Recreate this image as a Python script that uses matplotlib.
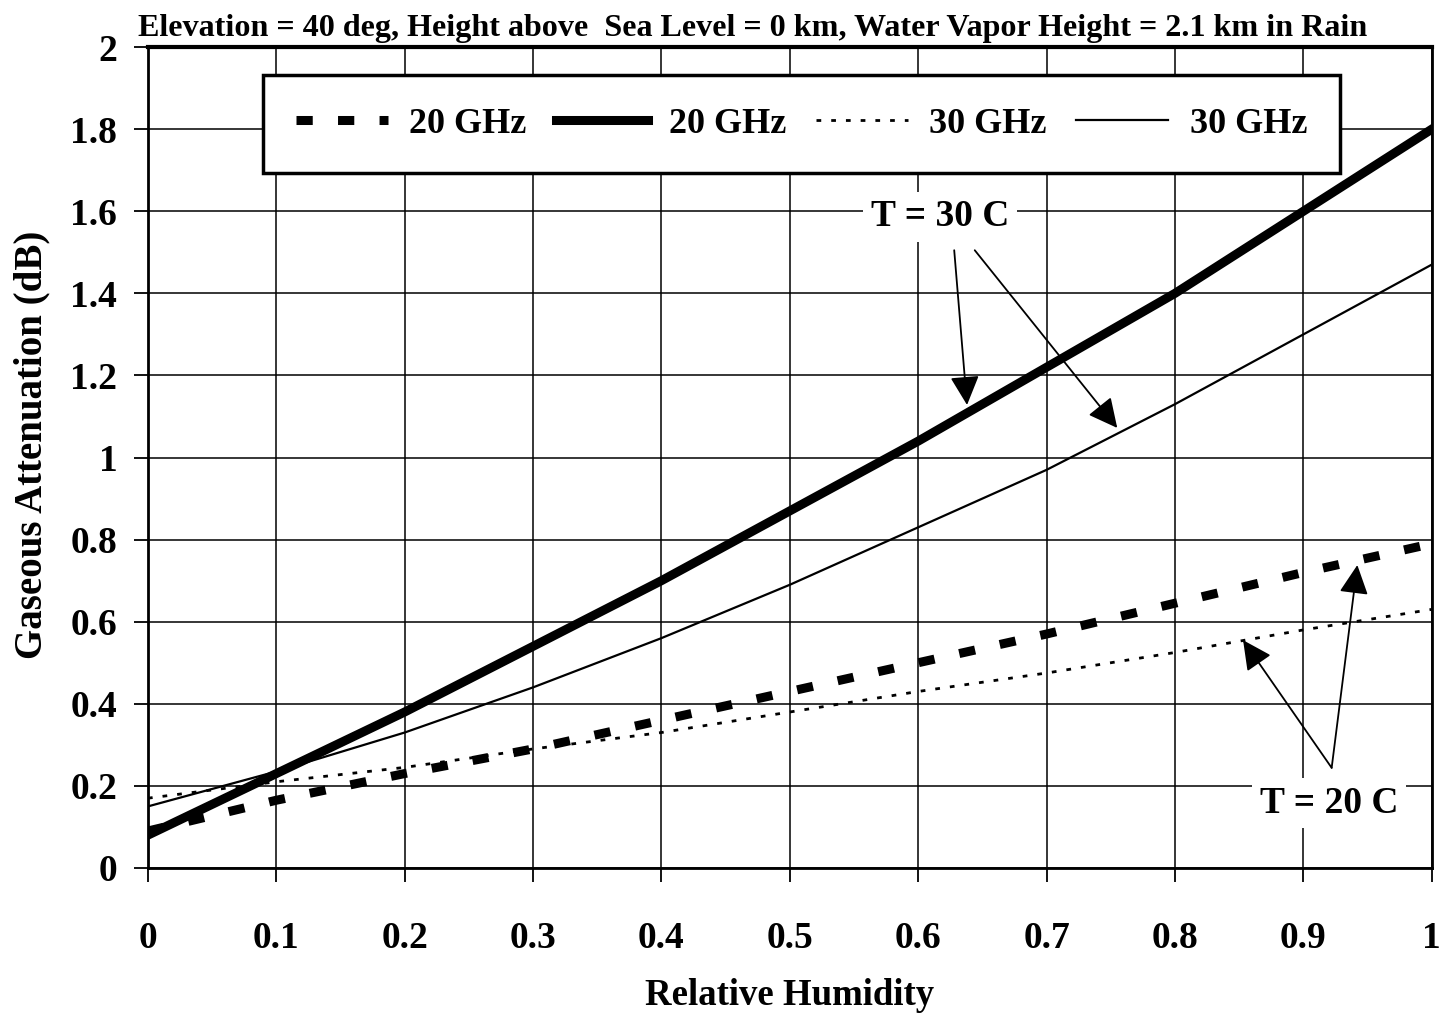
import matplotlib
matplotlib.use("Agg")
import matplotlib.pyplot as plt

plt.rcParams['font.family'] = ['Liberation Serif', 'DejaVu Serif']
plt.rcParams['font.weight'] = 'bold'

humidity = [0.0, 0.1, 0.2, 0.3, 0.4, 0.5, 0.6, 0.7, 0.8, 0.9, 1.0]
att_20ghz_t20 = [0.09, 0.165, 0.23, 0.29, 0.36, 0.43, 0.50, 0.57, 0.645, 0.72, 0.79]
att_20ghz_t30 = [0.08, 0.23, 0.38, 0.54, 0.70, 0.87, 1.04, 1.22, 1.40, 1.60, 1.80]
att_30ghz_t20 = [0.17, 0.21, 0.245, 0.29, 0.33, 0.38, 0.43, 0.475, 0.525, 0.58, 0.63]
att_30ghz_t30 = [0.15, 0.235, 0.33, 0.44, 0.56, 0.69, 0.83, 0.97, 1.13, 1.30, 1.47]

x_ticks = [0, 0.1, 0.2, 0.3, 0.4, 0.5, 0.6, 0.7, 0.8, 0.9, 1]
x_tick_labels = ['0', '0.1', '0.2', '0.3', '0.4', '0.5', '0.6', '0.7', '0.8', '0.9', '1']
y_ticks = [0, 0.2, 0.4, 0.6, 0.8, 1.0, 1.2, 1.4, 1.6, 1.8, 2.0]
y_tick_labels = ['0', '0.2', '0.4', '0.6', '0.8', '1', '1.2', '1.4', '1.6', '1.8', '2']

fig = plt.figure(figsize=(14.39, 10.16), dpi=100)
ax = fig.add_axes([0.1028, 0.1457, 0.8922, 0.808])

ax.plot(humidity, att_20ghz_t20, color='black', lw=6.5, ls=(0, (1.8, 2.8)),
        solid_capstyle='butt', dash_capstyle='butt', label='20 GHz', zorder=3)
ax.plot(humidity, att_20ghz_t30, color='black', lw=6.5, label='20 GHz', zorder=3)
ax.plot(humidity, att_30ghz_t20, color='black', lw=2, ls=(0, (1.7, 3.6)),
        label='30 GHz', zorder=3)
ax.plot(humidity, att_30ghz_t30, color='black', lw=1.6, label='30 GHz', zorder=3)

ax.set_xlim(0, 1)
ax.set_ylim(0, 2)
ax.set_xticks(x_ticks)
ax.set_xticklabels(x_tick_labels)
ax.set_yticks(y_ticks)
ax.set_yticklabels(y_tick_labels)
ax.tick_params(axis='both', labelsize=27, width=1.3, length=10, direction='out',
               color='black')
ax.tick_params(axis='x', pad=28)
ax.tick_params(axis='y', pad=12)
ax.grid(True, color='black', lw=1.1)
ax.set_axisbelow(True)
for side in ['left', 'right', 'bottom']:
    ax.spines[side].set_linewidth(2)
ax.spines['top'].set_linewidth(3)

ax.set_xlabel('Relative Humidity', fontsize=26.5, fontweight='bold', labelpad=16)
ax.set_ylabel('Gaseous Attenuation (dB)', fontsize=28, fontweight='bold')
ax.yaxis.set_label_coords(-0.076, 0.515)
ax.set_title('Elevation = 40 deg, Height above  Sea Level = 0 km, '
             'Water Vapor Height = 2.1 km in Rain',
             fontsize=23.1, fontweight='bold', pad=8, x=0.471)

leg = ax.legend(ncol=4, loc='upper center', bbox_to_anchor=(0.509, 0.966),
                fontsize=26, handlelength=2.55, handletextpad=0.6,
                columnspacing=0.8, frameon=True, fancybox=False,
                borderpad=0.9, borderaxespad=0, edgecolor='black',
                framealpha=1)
leg.get_frame().set_linewidth(2.5)

arrow_style = dict(arrowstyle='-|>,head_length=0.9,head_width=0.45',
                   mutation_scale=20, color='black', lw=1.3,
                   shrinkA=0, shrinkB=0)
label_box = dict(boxstyle='square,pad=0.2', fc='white', ec='none')

ax.text(0.617, 1.586, 'T = 30 C', ha='center', va='center', fontsize=27,
        fontweight='bold', bbox=label_box, zorder=5)
ax.annotate('', xy=(0.638, 1.128), xytext=(0.628, 1.505),
            arrowprops=arrow_style, zorder=5)
ax.annotate('', xy=(0.755, 1.072), xytext=(0.644, 1.505),
            arrowprops=arrow_style, zorder=5)

ax.text(0.92, 0.158, 'T = 20 C', ha='center', va='center', fontsize=27,
        fontweight='bold', bbox=label_box, zorder=5)
ax.annotate('', xy=(0.853, 0.555), xytext=(0.922, 0.244),
            arrowprops=arrow_style, zorder=5)
ax.annotate('', xy=(0.942, 0.738), xytext=(0.922, 0.244),
            arrowprops=arrow_style, zorder=5)

fig.savefig('out.png', dpi=100)
